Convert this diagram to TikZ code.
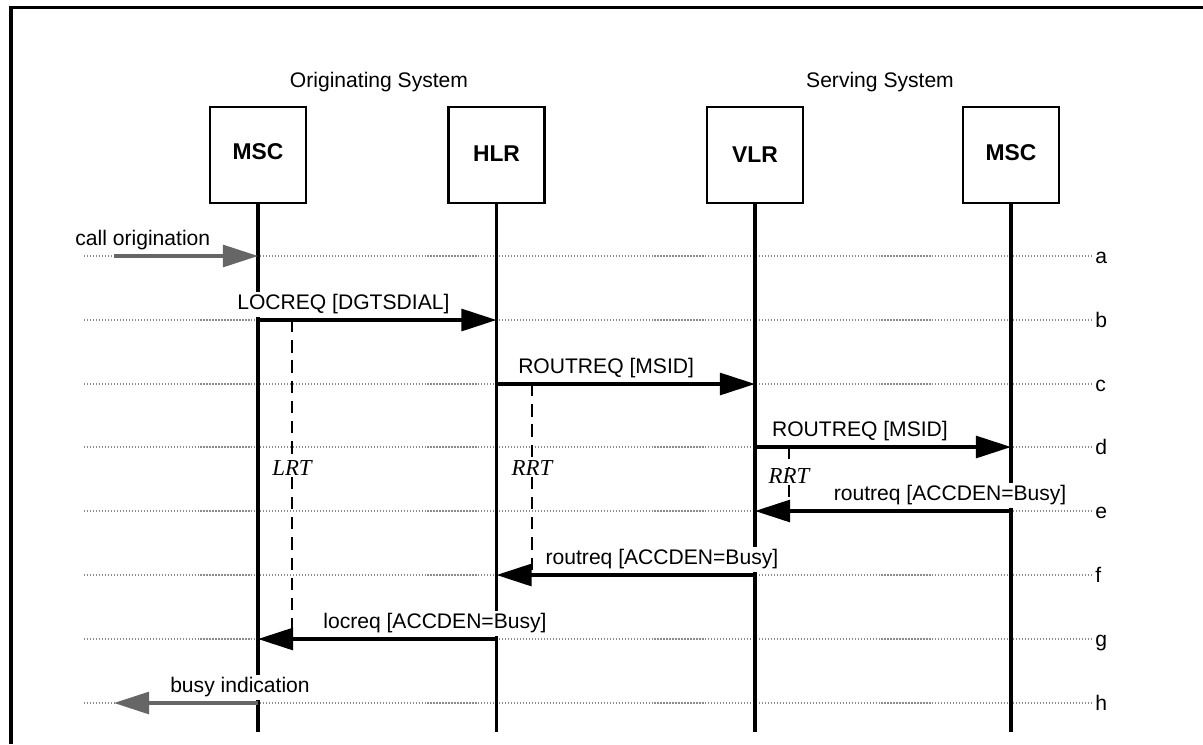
\documentclass[tikz,border=0pt]{standalone}
\usepackage{fontspec}
\setmainfont{Liberation Sans}
\newfontfamily\timerfont{Liberation Serif}
\usetikzlibrary{arrows.meta}

\begin{document}
\begin{tikzpicture}[x=0.02cm, y=-0.02cm,
        font=\fontsize{12}{14}\selectfont,
        entity/.style={draw, line width=1.3pt, minimum size=1.92cm, inner sep=0pt,
            font=\fontsize{13}{15}\selectfont\bfseries},
        life/.style={line width=1.8pt},
        row/.style={black!45, line width=0.7pt, densely dotted},
        msg/.style={line width=1.8pt, -{Triangle[length=20pt, width=12.5pt]}},
        ext/.style={msg, draw=black!60, fill=black!60},
        lbl/.style={fill=white, inner sep=1.5pt, anchor=base, yshift=5.7pt},
        timer/.style={line width=1.5pt, dash pattern=on 7pt off 4.5pt},
        tlabel/.style={fill=white, inner sep=0.5pt, font=\fontsize{13}{15}\timerfont\itshape}]
    \useasboundingbox (0,0) rectangle (1203,744);
    \draw[line width=1.8pt] (11,744) |- (1203,7.5);

    \node[anchor=base] (orig) at (379,87) {Originating System};
    \node[anchor=base] (serv) at (880,87) {Serving System};

    \node[entity] (msca) at (258,155) {\raisebox{4pt}{MSC}};
    \node[entity] (hlr) at (496.5,155) {\raisebox{1pt}{HLR}};
    \node[entity] (vlr) at (755,155) {\raisebox{-0.5pt}{VLR}};
    \node[entity] (mscb) at (1011,155) {\raisebox{3pt}{MSC}};

    \coordinate (bottom) at (0,732);
    \coordinate (outside) at (114,0);

    \foreach \r/\y in {a/256, b/320, c/384, d/447, e/511, f/575, g/639, h/703} {
        \coordinate (\r0) at (84,\y);
        \coordinate (\r) at (1092,\y);
        \draw[row] (\r0) -- (\r);
        \node[anchor=base west, inner sep=0pt, yshift=-4pt] (tag\r) at (1095,\y) {\r};
    }

    \foreach \n in {msca, hlr, vlr, mscb}
        \draw[life] (\n.south) -- (\n |- bottom);

    \node[tlabel] (lrt) at (292,468) {LRT};
    \node[tlabel] (rrta) at (532,468) {RRT};
    \node[tlabel] (rrtb) at (789,476) {RRT};
    \draw[timer] (lrt |- b) -- (lrt.north);
    \draw[timer] (lrt.south) -- (lrt |- g);
    \draw[timer] (rrta |- c) -- (rrta.north);
    \draw[timer] (rrta.south) -- (rrta |- f);
    \draw[timer] (rrtb |- d) -- (rrtb.north);
    \draw[timer] (rrtb.south) -- (rrtb |- e);

    \draw[ext] (outside |- a) -- node[lbl, pos=0.2] {call origination} (msca |- a);
    \draw[msg] (msca |- b) -- node[lbl, pos=0.358] {LOCREQ [DGTSDIAL]} (hlr |- b);
    \draw[msg] (hlr |- c) -- node[lbl, pos=0.424] {ROUTREQ [MSID]} (vlr |- c);
    \draw[msg] (vlr |- d) -- node[lbl, pos=0.41] {ROUTREQ [MSID]} (mscb |- d);
    \draw[msg] (mscb |- e) -- node[lbl, pos=0.238] {routreq [ACCDEN=Busy]} (vlr |- e);
    \draw[msg] (vlr |- f) -- node[lbl, pos=0.36] {routreq [ACCDEN=Busy]} (hlr |- f);
    \draw[msg] (hlr |- g) -- node[lbl, pos=0.258] {locreq [ACCDEN=Busy]} (msca |- g);
    \draw[ext] (msca |- h) -- node[lbl, pos=0.125] {busy indication} (outside |- h);
\end{tikzpicture}
\end{document}
